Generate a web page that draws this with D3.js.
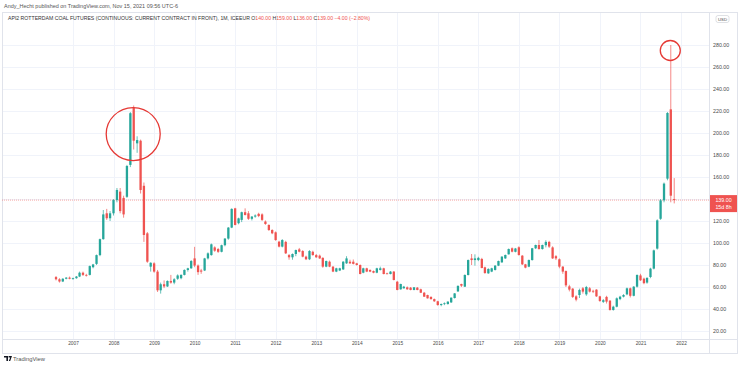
<!DOCTYPE html>
<html>
<head>
<meta charset="utf-8">
<script src="https://cdn.jsdelivr.net/npm/d3@7/dist/d3.min.js"></script>
<style>
  html, body { margin: 0; padding: 0; background: #fff; }
  svg { display: block; font-family: "Liberation Sans", Arial, sans-serif; }
</style>
</head>
<body>
<div id="chart"></div>
<script>
// monthly candles, first one is Aug 2006
const firstMonth = new Date(2006, 7, 1);

const open = [
  69, 67, 65, 67.5, 68.5,
  67.5, 68, 69.5, 73, 71, 71, 78, 81, 89, 103.5, 127, 122.5,
  127, 139, 146.7, 141, 142, 171, 223, 190.6, 193, 152, 108.8, 78.5,
  81.5, 74, 57, 62.5, 60.5, 65.5, 64, 67.5, 68, 71, 75.5, 77,
  86, 79.5, 75, 75, 86, 89, 96, 94.5, 92, 98, 104, 114,
  131.5, 118, 121, 128, 127, 122, 124, 126.5, 126, 119.5, 116.4, 111.8,
  109.7, 101.2, 96.7, 101, 89, 87, 90, 94.2, 92.7, 87.6, 85.2, 92,
  89, 88.5, 86.5, 78.5, 83, 78.5, 74, 75, 76, 81.5, 83, 83,
  81.5, 80, 73, 77, 75.5, 74.5, 73, 75.5, 77, 72.4, 71.8, 74,
  64.8, 57.9, 58.8, 59.7, 59.4, 57.3, 59.4, 57.9, 54.8, 52.7, 51, 49,
  47, 43.6, 44.5, 44.5, 46, 50, 56, 62.7, 60.3, 70.9, 86, 84.5,
  84.5, 85.5, 77.9, 72.4, 74, 75.5, 79.4, 82.4, 86, 89.7, 95.2, 92,
  96.1, 88.5, 80.6, 78.5, 84.5, 95.2, 98.2, 94.5, 98, 101, 96, 88,
  85.2, 78.5, 74.5, 60.6, 58.5, 51.5, 52.7, 58.8, 53.3, 58.8, 56.5, 57.6,
  51.5, 46.5, 51, 47.6, 39.1, 42.1, 49, 51.2, 53.3, 58.8, 52, 60.3,
  70.5, 67.6, 64, 69.1, 76.7, 94.9, 122, 138.8, 158.5, 221.5, 140
];
const high = [
  70, 68, 68, 69, 69.5,
  68.5, 70, 74, 74, 72, 79.5, 81, 89.5, 104, 130, 131, 129,
  140, 150, 150, 143, 171, 219, 225, 197, 194, 155, 110, 82.5,
  82.5, 75.5, 64, 66, 66, 71, 68, 71.5, 71.5, 76, 77.5, 84.5,
  96.5, 80.5, 76.5, 86.5, 91.5, 99.5, 97, 95.5, 98.5, 104.5, 114.5, 131.5,
  132, 123, 128.5, 131.5, 129, 124.5, 126, 127.5, 127, 120.5, 117, 112.5,
  110.5, 102, 103.5, 102, 90, 90.5, 94, 95.5, 93.5, 88.5, 93.5, 93,
  90, 89.5, 87, 84, 84, 79, 77.5, 77.5, 83.5, 88, 84.8, 85,
  82, 80.5, 77.5, 77.5, 76, 75, 77.5, 78.5, 77.5, 73, 74.5, 74.5,
  65.5, 63, 61, 60.5, 60, 60, 60, 58.5, 55.5, 53, 51.5, 49.5,
  47.5, 45, 46, 47, 50.5, 54.5, 61.5, 63, 71.5, 85, 90, 89.7,
  87.5, 86.5, 78.5, 77, 77.5, 80, 84, 88, 89.5, 95, 96, 95.5,
  97, 89, 81, 85, 95.5, 98.5, 102.7, 98.5, 102.5, 102, 97, 89,
  86, 79, 75, 62, 59, 52.5, 58.5, 60, 61, 60, 57.5, 58,
  52, 49, 52, 48, 43, 50.5, 52, 53.5, 59.5, 59.5, 60.8, 71.5,
  72, 68.5, 69, 77.5, 94, 121.5, 140, 155, 219, 280, 159
];
const low = [
  66, 64, 64.5, 67, 67,
  66.5, 67.5, 69, 70, 69.5, 70.5, 77, 80, 88, 103, 121, 120,
  125, 137, 127, 123, 141, 169, 185, 182, 145, 101, 82, 74,
  73, 55.5, 54, 59, 60, 63, 62.5, 66.5, 67, 70.5, 74, 76.5,
  78, 71, 72, 74.5, 85, 88.5, 92, 91, 91.5, 97, 103, 113.5,
  116, 117, 119, 125, 121, 120.5, 123, 123.5, 120, 116.5, 111, 108,
  102, 96, 96, 90, 84.8, 84.8, 88, 91.5, 87, 84.5, 84.5, 88.5,
  86.5, 85.5, 77.5, 78, 78, 73.5, 73.5, 74.5, 75.5, 81, 81, 80.5,
  79.5, 71.5, 72.5, 73.5, 73.5, 72.5, 72.5, 75, 71.5, 71.5, 71.5, 66,
  57, 57.5, 58.5, 57.5, 57, 57, 57, 54.5, 51, 49.5, 48.5, 46.5,
  43, 42.5, 43.5, 44, 45.5, 49.5, 55.5, 60, 60, 70.5, 80, 79.4,
  83.5, 77, 72, 72, 73.5, 75, 79, 82, 85.5, 89.5, 91.5, 91.5,
  88.5, 80, 77, 78, 84, 94.5, 94, 94, 96, 95.5, 85.5, 84.5,
  77, 72, 60, 56, 50, 47, 50, 54, 52, 55, 54.5, 51,
  46.5, 45.5, 45, 38.5, 38.5, 41.5, 48, 50.5, 52.5, 50.5, 51.5, 59.5,
  65.5, 62.5, 63, 68, 76, 94, 121, 137, 157, 137, 136
];
const close = [
  67, 65, 67.5, 68.5, 67.5,
  68, 69.5, 73, 71, 70.5, 79, 80.5, 89, 103.5, 126, 122.5, 127,
  139, 148.2, 129, 126, 170, 218, 193, 193.6, 148.2, 107.3, 83, 82,
  74, 57, 62.5, 60.5, 65.5, 64, 67, 70.5, 71, 75.5, 77, 83.6,
  79.5, 73.5, 74, 86, 90.6, 98.8, 93, 92, 98, 104, 114, 131,
  116.4, 122.4, 128, 125.5, 122, 124, 125, 124.5, 121, 117.3, 111.8, 108.8,
  102.7, 96.7, 102.7, 90.6, 87, 90, 93.6, 92.1, 87.6, 85.2, 92.7, 89,
  87, 86, 78.5, 83.6, 78.5, 74, 77, 77, 83, 86, 81.5, 81,
  80, 71.8, 77, 74, 74, 73, 77, 77, 71.8, 71.8, 74, 66.4,
  57.3, 62.7, 60.3, 57.9, 57.3, 59.7, 57.3, 54.8, 51.2, 49.7, 49, 47,
  43.6, 44.5, 45.2, 46.7, 50.3, 54.2, 61, 61.2, 70.9, 84.5, 84.5, 86,
  86.5, 77.3, 72.7, 76.4, 77, 79.4, 83.6, 87.6, 89.1, 94.5, 92.1, 95,
  89.1, 80.6, 77.6, 84.5, 95.2, 98.2, 94.5, 98.2, 101, 96.7, 86, 86,
  78.5, 74, 61.5, 57.6, 51, 48.5, 57.3, 55.8, 60, 55.8, 55.8, 51.5,
  47.3, 48, 46.7, 39.1, 42.1, 49.7, 51.2, 52.7, 58.8, 52, 60.3, 70.9,
  66.1, 63.5, 68.2, 76.7, 93.3, 120.6, 138.8, 154, 218.2, 143, 139
];

const priceTicks = [20, 40, 60, 80, 100, 120, 140, 160, 180, 200, 220, 240, 260, 280];
const yearTicks = [2007, 2008, 2009, 2010, 2011, 2012, 2013, 2014, 2015, 2016, 2017, 2018, 2019, 2020, 2021, 2022];
const lastPrice = 139;
const lastTimer = "15d 8h";

const publishedText = "Andy_Hecht published on TradingView.com, Nov 15, 2021 09:56 UTC-6";
const symbolText = "API2 ROTTERDAM COAL FUTURES (CONTINUOUS: CURRENT CONTRACT IN FRONT), 1M, ICEEUR";

const up = "#26a69a", down = "#ef5350";
const W = 740, H = 367;
const frame = { left: 2, top: 12, right: 737, bottom: 353 };
const plot = { left: 2, top: 12, right: 709, bottom: 339 };

const candles = open.map((o, i) => ({
  date: d3.timeMonth.offset(firstMonth, i),
  o: o, h: high[i], l: low[i], c: close[i]
}));

const svg = d3.select("#chart").append("svg")
  .attr("width", W).attr("height", H);

const x = d3.scaleTime()
  .domain([new Date(2007, 0, 1), new Date(2022, 0, 1)])
  .range([73, 681]);
const y = d3.scaleLinear()
  .domain([20, 280])
  .range([331, 45]);

// grid
svg.append("g")
  .selectAll("line.h")
  .data(priceTicks)
  .join("line")
  .attr("x1", plot.left).attr("x2", plot.right)
  .attr("y1", d => y(d) + 0.5).attr("y2", d => y(d) + 0.5)
  .attr("stroke", "#f0f3fa");
svg.append("g")
  .selectAll("line.v")
  .data(yearTicks)
  .join("line")
  .attr("x1", d => Math.round(x(new Date(d, 0, 1))) + 0.5)
  .attr("x2", d => Math.round(x(new Date(d, 0, 1))) + 0.5)
  .attr("y1", plot.top).attr("y2", plot.bottom)
  .attr("stroke", "#f0f3fa");

// frame and separators
svg.append("rect")
  .attr("x", frame.left + 0.5).attr("y", frame.top + 0.5)
  .attr("width", frame.right - frame.left).attr("height", frame.bottom - frame.top)
  .attr("fill", "none").attr("stroke", "#e0e3eb");
svg.append("line")
  .attr("x1", plot.right + 0.5).attr("x2", plot.right + 0.5)
  .attr("y1", frame.top).attr("y2", frame.bottom)
  .attr("stroke", "#e0e3eb");
svg.append("line")
  .attr("x1", frame.left).attr("x2", frame.right)
  .attr("y1", plot.bottom + 0.5).attr("y2", plot.bottom + 0.5)
  .attr("stroke", "#e0e3eb");

// last price line
svg.append("line")
  .attr("x1", plot.left).attr("x2", plot.right)
  .attr("y1", y(lastPrice)).attr("y2", y(lastPrice))
  .attr("stroke", down).attr("stroke-opacity", 0.5)
  .attr("stroke-dasharray", "1,1");

// candles
const bw = 2.3;
const cg = svg.append("g");
cg.selectAll("line")
  .data(candles)
  .join("line")
  .attr("x1", d => x(d.date)).attr("x2", d => x(d.date))
  .attr("y1", d => y(d.h)).attr("y2", d => y(d.l))
  .attr("stroke", d => d.c >= d.o ? up : down)
  .attr("stroke-width", 0.7);
cg.selectAll("rect")
  .data(candles)
  .join("rect")
  .attr("x", d => x(d.date) - bw / 2)
  .attr("width", bw)
  .attr("y", d => y(Math.max(d.o, d.c)))
  .attr("height", d => Math.max(0.8, Math.abs(y(d.o) - y(d.c))))
  .attr("fill", d => d.c >= d.o ? up : down);

// annotation circles
const peak2008 = candles[23], peak2021 = candles[182];
svg.append("ellipse")
  .attr("cx", x(peak2008.date) - 0.5)
  .attr("cy", y(199))
  .attr("rx", 27).attr("ry", 26.5)
  .attr("fill", "none").attr("stroke", "#e53935").attr("stroke-width", 1.3);
svg.append("circle")
  .attr("cx", x(peak2021.date) - 0.5)
  .attr("cy", y(275))
  .attr("r", 10)
  .attr("fill", "none").attr("stroke", "#e53935").attr("stroke-width", 1.3);

// price axis (the label hidden under the last-price tag is skipped)
const yAxis = svg.append("g")
  .attr("transform", `translate(${plot.right + 4},0)`)
  .call(d3.axisRight(y)
    .tickValues(priceTicks.filter(t => Math.abs(y(t) - y(lastPrice)) > 12))
    .tickFormat(d3.format(".2f")).tickSize(0).tickPadding(0));
yAxis.select(".domain").remove();
yAxis.selectAll("text")
  .attr("font-size", 5.3)
  .attr("font-family", "Liberation Sans, Arial, sans-serif")
  .attr("fill", "#4a4a4a");

// time axis
const xAxis = svg.append("g")
  .attr("transform", `translate(0,${plot.bottom})`)
  .call(d3.axisBottom(x)
    .tickValues(yearTicks.map(t => new Date(t, 0, 1)))
    .tickFormat(d3.timeFormat("%Y")).tickSize(0).tickPadding(3));
xAxis.select(".domain").remove();
xAxis.selectAll("text")
  .attr("font-size", 4.8)
  .attr("font-family", "Liberation Sans, Arial, sans-serif")
  .attr("fill", "#4a4a4a");

// currency tag
svg.append("rect")
  .attr("x", 716).attr("y", 15.5).attr("width", 13).attr("height", 7).attr("rx", 2)
  .attr("fill", "#fff").attr("stroke", "#c9ccd4").attr("stroke-width", 0.6);
svg.append("text")
  .attr("x", 722.5).attr("y", 20.8).attr("text-anchor", "middle")
  .attr("font-size", 4.3).attr("fill", "#4a4a4a").text("USD");

// last price tag
svg.append("rect")
  .attr("x", plot.right + 1).attr("y", y(lastPrice) - 5)
  .attr("width", 27).attr("height", 17)
  .attr("fill", down);
svg.append("text")
  .attr("x", plot.right + 14.5).attr("y", y(lastPrice) + 1.8)
  .attr("text-anchor", "middle").attr("font-size", 5.3).attr("fill", "#fff")
  .text(d3.format(".2f")(lastPrice));
svg.append("text")
  .attr("x", plot.right + 14.5).attr("y", y(lastPrice) + 9)
  .attr("text-anchor", "middle").attr("font-size", 5.3).attr("fill", "#fff")
  .text(lastTimer);

// header texts
svg.append("text")
  .attr("x", 4).attr("y", 7.5)
  .attr("font-size", 5).attr("fill", "#555")
  .attr("textLength", 174).attr("lengthAdjust", "spacingAndGlyphs")
  .text(publishedText);

const last = candles[candles.length - 1];
const prev = candles[candles.length - 2];
const chg = last.c - prev.c;
const legend = svg.append("text")
  .attr("x", 8).attr("y", 20)
  .attr("font-size", 4.6).attr("fill", "#333")
  .attr("textLength", 362).attr("lengthAdjust", "spacingAndGlyphs");
legend.append("tspan").text(symbolText + "  ");
[["O", last.o], ["H", last.h], ["L", last.l], ["C", last.c]].forEach(([k, v]) => {
  legend.append("tspan").attr("fill", "#333").text(k);
  legend.append("tspan").attr("fill", down).text(d3.format(".2f")(v) + " ");
});
legend.append("tspan").attr("fill", down)
  .text(d3.format("+.2f")(chg).replace("-", "\u2212") + " (" +
        d3.format("+.2%")(chg / prev.c).replace("-", "\u2212") + ")");

// TradingView mark
const logo = svg.append("g").attr("transform", "translate(4,356)");
logo.append("path")
  .attr("d", "M0,0 H4 V5 H2.4 V1.4 H0 Z M4.6,0 H8 L6.2,5 H4.8 L6.2,1.4 H4.6 Z")
  .attr("fill", "#131722");
svg.append("text")
  .attr("x", 13).attr("y", 361)
  .attr("font-size", 5.6).attr("fill", "#555")
  .attr("textLength", 32).attr("lengthAdjust", "spacingAndGlyphs")
  .text("TradingView");
</script>
</body>
</html>
